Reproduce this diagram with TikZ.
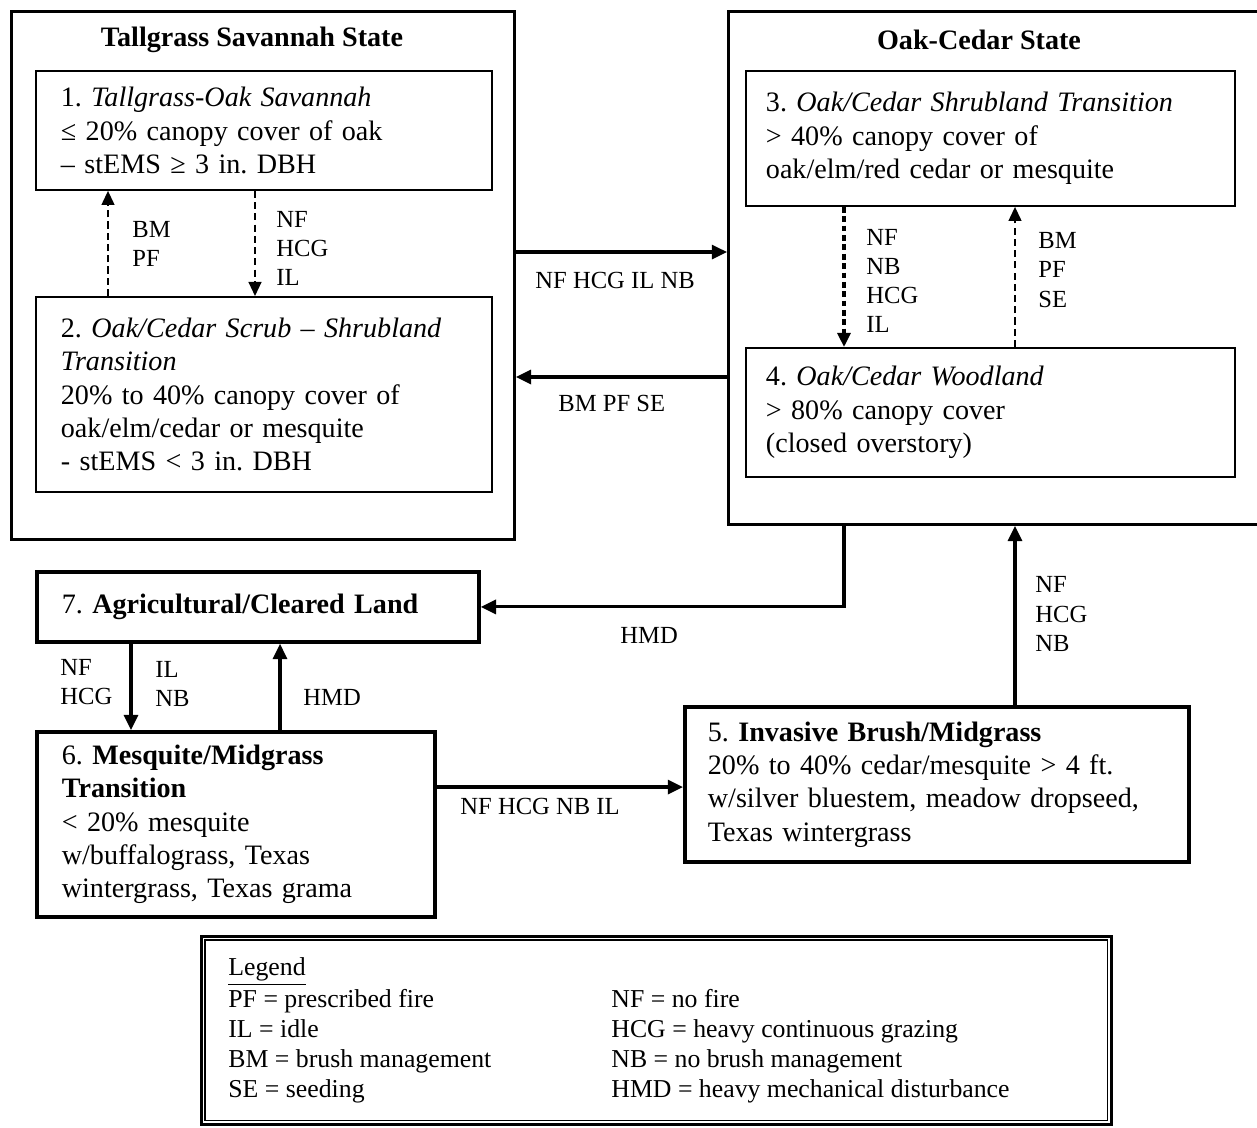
\documentclass[tikz,border=0pt]{standalone}
\usepackage{fontspec}
\setmainfont{Liberation Serif}
\usetikzlibrary{arrows.meta, positioning, calc}
\frenchspacing

\begin{document}
\begin{tikzpicture}[x=0.015cm, y=-0.015cm,
    statebox/.style={draw, line width=1.2pt, anchor=north west},
    statetitle/.style={font=\fontsize{12}{14.2}\selectfont\bfseries},
    phase/.style={draw, line width=0.8pt, anchor=north west, align=left, inner xsep=0.375cm, font=\fontsize{12}{14.2}\selectfont},
    heavy/.style={phase, line width=1.6pt},
    lbl/.style={anchor=west, align=left, inner sep=0pt, font=\fontsize{10.5}{12.4}\selectfont},
    solidarrow/.style={-{Triangle[length=6.5pt,width=6pt]}, line width=1.3pt},
    dasharrow/.style={-{Triangle[length=6pt,width=5.5pt]}, line width=0.7pt, dash pattern=on 3pt off 1.8pt},
    boldash/.style={-{Triangle[length=6pt,width=5.5pt]}, line width=1.4pt, dash pattern=on 2.5pt off 1.5pt}]
    \useasboundingbox (0,0) rectangle (1257,1127);

    \node[statebox, minimum width=7.545cm, minimum height=7.92cm] (tgstate) at (10,10) {};
    \node[statetitle] (tgtitle) at (252,40) {Tallgrass Savannah State};
    \node[phase, text width=6.09cm, minimum height=1.785cm] (box1) at (35,70)
        {1. \textit{Tallgrass-Oak Savannah}\\≤ 20\% canopy cover of oak\\– stEMS ≥ 3 in. DBH};
    \node[phase, text width=6.09cm, minimum height=2.925cm] (box2) at (35,296)
        {2. \textit{Oak/Cedar Scrub – Shrubland}\\\textit{Transition}\\20\% to 40\% canopy cover of\\oak/elm/cedar or mesquite\\- stEMS < 3 in. DBH};

    \node[statebox, minimum width=8.1cm, minimum height=7.695cm] (ocstate) at (727,10) {};
    \node[statetitle] (octitle) at (979,40) {Oak-Cedar State};
    \node[phase, inner xsep=0.3cm, text width=6.735cm, minimum height=2.025cm] (box3) at (745,70)
        {3. \textit{Oak/Cedar Shrubland Transition}\\> 40\% canopy cover of\\oak/elm/red cedar or mesquite};
    \node[phase, inner xsep=0.3cm, text width=6.735cm, minimum height=1.935cm] (box4) at (745,347)
        {4. \textit{Oak/Cedar Woodland}\\> 80\% canopy cover\\(closed overstory)};

    \node[heavy, text width=5.88cm, minimum height=1.05cm] (box7) at (35,570)
        {7. \textbf{Agricultural/Cleared Land}};
    \node[heavy, text width=5.22cm, minimum height=2.775cm] (box6) at (35,730)
        {6. \textbf{Mesquite/Midgrass}\\\textbf{Transition}\\< 20\% mesquite\\w/buffalograss, Texas\\wintergrass, Texas grama};
    \node[heavy, inner xsep=0.345cm, text width=6.87cm, minimum height=2.325cm] (box5) at (683,705)
        {5. \textbf{Invasive Brush/Midgrass}\\20\% to 40\% cedar/mesquite > 4 ft.\\w/silver bluestem, meadow dropseed,\\Texas wintergrass};

    \draw[dasharrow] ($(box2.north west)+(73,0)$) -- ($(box1.south west)+(73,0)$);
    \draw[dasharrow] ($(box1.south west)+(220,0)$) -- ($(box2.north west)+(220,0)$);
    \node[lbl] (l21) at (132,244) {BM\\PF};
    \node[lbl] (l12) at (276,248) {NF\\HCG\\IL};

    \draw[boldash] ($(box3.south west)+(99,0)$) -- ($(box4.north west)+(99,0)$);
    \draw[dasharrow] ($(box4.north west)+(270,0)$) -- ($(box3.south west)+(270,0)$);
    \node[lbl] (l34) at (866,281) {NF\\NB\\HCG\\IL};
    \node[lbl] (l43) at (1038,270) {BM\\PF\\SE};

    \draw[solidarrow] ($(tgstate.north east)+(0,242)$) -- ($(ocstate.north west)+(0,242)$);
    \draw[solidarrow] ($(ocstate.north west)+(0,367)$) -- ($(tgstate.north east)+(0,367)$);
    \node[lbl] (ltgoc) at (535,280) {NF HCG IL NB};
    \node[lbl] (loctg) at (558,403) {BM PF SE};

    \draw[solidarrow] ($(ocstate.south west)+(117,0)$) |- (box7.east);
    \node[lbl] (loc7) at (620,635) {HMD};

    \draw[solidarrow] ($(box7.south west)+(96,0)$) -- ($(box6.north west)+(96,0)$);
    \draw[solidarrow] ($(box6.north west)+(245,0)$) -- ($(box7.south west)+(245,0)$);
    \node[lbl] (l76a) at (60,682) {NF\\HCG};
    \node[lbl] (l76b) at (155,684) {IL\\NB};
    \node[lbl] (l67) at (303,697) {HMD};

    \coordinate (m65) at ($(box6.north east)+(0,57)$);
    \draw[solidarrow] (m65) -- (m65 -| box5.west);
    \node[lbl] (l65) at (460,806) {NF HCG NB IL};

    \coordinate (m5oc) at ($(box5.north west)+(332,0)$);
    \draw[solidarrow] (m5oc) -- (m5oc |- ocstate.south);
    \node[lbl] (l5oc) at (1035,614) {NF\\HCG\\NB};

    \node[draw, line width=1.2pt, anchor=north west, inner xsep=0.405cm, minimum height=2.82cm,
        font=\fontsize{11}{12.8}\selectfont] (legend) at (200,935)
        {\begin{tabular}{@{}p{5.745cm}@{}p{7.095cm}@{}}
            \underline{Legend} & \\
            PF = prescribed fire & NF = no fire\\
            IL = idle & HCG = heavy continuous grazing\\
            BM = brush management & NB = no brush management\\
            SE = seeding & HMD = heavy mechanical disturbance
        \end{tabular}};
    \draw[line width=0.5pt] ([shift={(5,5)}]legend.north west) rectangle ([shift={(-5,-5)}]legend.south east);
\end{tikzpicture}
\end{document}
